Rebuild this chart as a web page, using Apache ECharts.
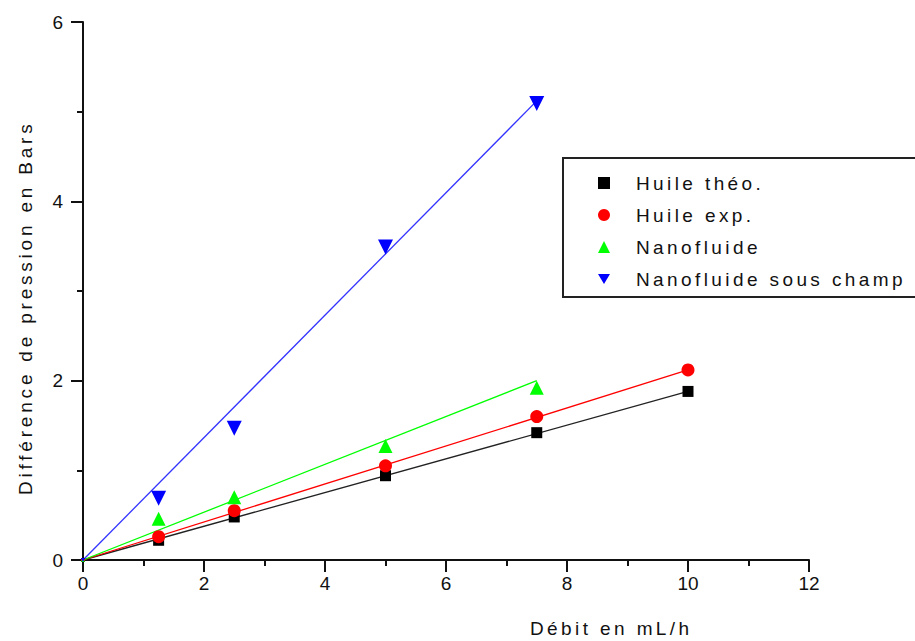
<!DOCTYPE html>
<html><head><meta charset="utf-8">
<script src="https://cdn.jsdelivr.net/npm/echarts@6/dist/echarts.min.js"></script>
<style>
html,body{margin:0;padding:0;background:#fff;}
#chart{width:915px;height:641px;}
#chart text{letter-spacing:3.4px;}
</style></head><body><div id="chart"></div>
<script>
const xAll = [0, 1.25, 2.5, 5, 7.5, 10];
const xNano = [0, 1.25, 2.5, 5, 7.5];
const huileTheo = [0, 0.22, 0.48, 0.94, 1.42, 1.88];
const huileExp = [0, 0.26, 0.55, 1.05, 1.60, 2.12];
const nanofluide = [0, 0.46, 0.70, 1.27, 1.92];
const nanoChamp = [0, 0.69, 1.47, 3.49, 5.09];
const fitXHuile = [0, 10];
const fitXNano = [0, 7.5];
const fitTheo = [0, 1.88];
const fitExp = [0, 2.12];
const fitNano = [0, 2.0];
const fitChamp = [0, 5.12];
const names = ['Huile théo.', 'Huile exp.', 'Nanofluide', 'Nanofluide sous champ'];
const xTitle = 'Débit en mL/h';
const yTitle = 'Différence de pression en Bars';

const zip = (xs, ys) => xs.map((x, i) => [x, ys[i]]);
const FONT = 'Arial, "Liberation Sans", sans-serif';
const AX = '#111';
const DOWN_TRI = 'path://M0,0 L20,0 L10,17 Z';

function scatter(name, xs, ys, color, symbol, size) {
  return {
    name, type: 'scatter', data: zip(xs, ys), symbol,
    symbolSize: (v) => v[0] === 0 ? 4 : size,
    itemStyle: { color, opacity: 1 }, z: 5, clip: false
  };
}
function fit(xs, ys, color) {
  return {
    name: 'fit-' + color, type: 'line', data: zip(xs, ys), showSymbol: false, silent: true,
    lineStyle: { color, width: 1.3 }, z: 3
  };
}

const chart = echarts.init(document.getElementById('chart'), null, { renderer: 'svg' });
const axisCommon = {
  type: 'value',
  axisLine: { show: true, lineStyle: { color: AX, width: 2 } },
  axisTick: { show: true, length: 12, lineStyle: { color: AX, width: 2 } },
  minorTick: { show: true, splitNumber: 2, length: 6, lineStyle: { color: AX, width: 2 } },
  splitLine: { show: false },
  axisLabel: { fontSize: 19, color: AX, fontFamily: FONT }
};
chart.setOption({
  animation: false,
  backgroundColor: '#fff',
  grid: { left: 83, right: 106, top: 22, bottom: 81, outerBoundsMode: 'none' },
  xAxis: Object.assign({}, axisCommon, { min: 0, max: 12, interval: 2,
    axisLabel: Object.assign({}, axisCommon.axisLabel, { margin: 14 }) }),
  yAxis: Object.assign({}, axisCommon, { min: 0, max: 6, interval: 2,
    axisLabel: Object.assign({}, axisCommon.axisLabel, { margin: 20 }) }),
  legend: {
    data: names, orient: 'vertical', left: 598, top: 173, padding: 0,
    itemWidth: 12, itemHeight: 12, itemGap: 12,
    textStyle: { fontSize: 19, fontFamily: FONT, color: AX, padding: [0, 0, 0, 21], lineHeight: 20 }
  },
  graphic: [
    { type: 'rect', shape: { x: 563, y: 158, width: 400, height: 139 },
      style: { fill: '#fff', stroke: '#222', lineWidth: 2 }, z: 0, silent: true },
    { type: 'text', x: 530, y: 628,
      style: { text: xTitle, font: '19px ' + FONT, fill: AX, align: 'left', verticalAlign: 'middle' } },
    { type: 'text', x: 25, y: 495, rotation: Math.PI / 2,
      style: { text: yTitle, font: '19px ' + FONT, fill: AX, align: 'left', verticalAlign: 'middle' } }
  ],
  series: [
    fit(fitXHuile, fitTheo, '#222'),
    fit(fitXHuile, fitExp, '#ff0000'),
    fit(fitXNano, fitNano, '#00ff00'),
    fit(fitXNano, fitChamp, '#3333ff'),
    scatter(names[0], xAll, huileTheo, '#000000', 'rect', 11),
    scatter(names[1], xAll, huileExp, '#ff0000', 'circle', 13),
    scatter(names[2], xNano, nanofluide, '#00ff00', 'triangle', 14),
    scatter(names[3], xNano, nanoChamp, '#0000ff', DOWN_TRI, 15)
  ]
});
function fixSpacing() {
  document.querySelectorAll('#chart text').forEach(t => {
    const s = (t.textContent || '').trim();
    if (s.length <= 2) t.style.letterSpacing = '0px';
    else if (s === yTitle) t.style.letterSpacing = '3.8px';
  });
}
chart.on('finished', fixSpacing);
setTimeout(fixSpacing, 50);
setTimeout(fixSpacing, 300);
</script></body></html>
